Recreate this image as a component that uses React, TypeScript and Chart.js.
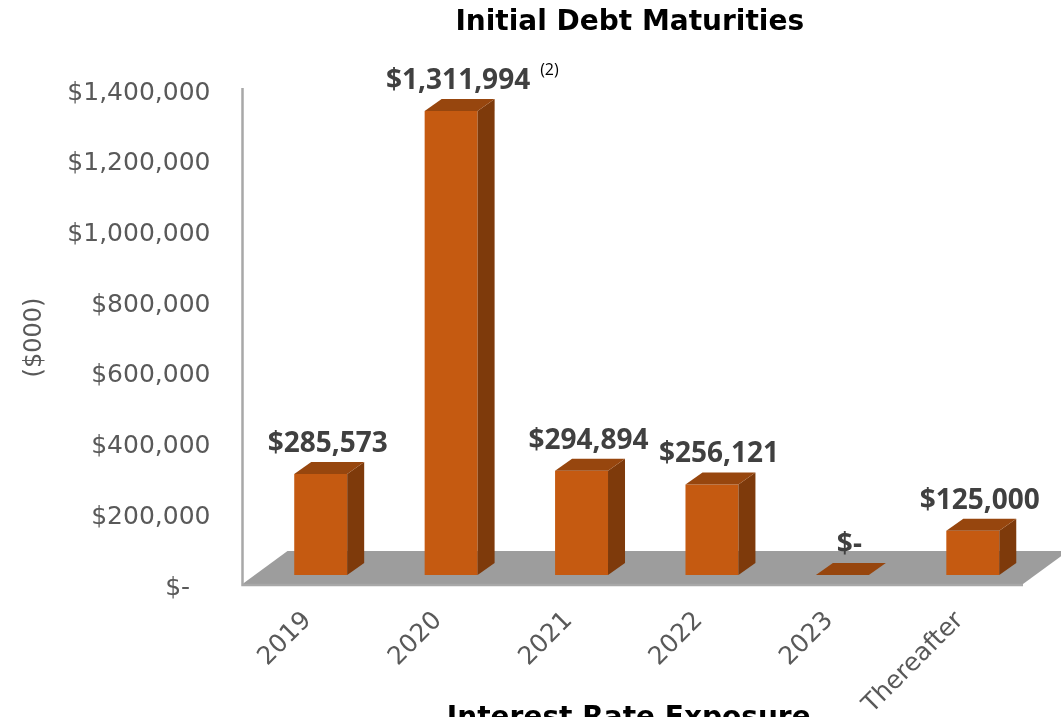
import React, { useEffect, useRef } from "react";
import { Chart, registerables } from "chart.js";

Chart.register(...registerables);

const categories = ["2019", "2020", "2021", "2022", "2023", "Thereafter"];
const maturities = [285573, 1311994, 294894, 256121, 0, 125000];
const labelNotes = ["", "(2)", "", "", "", ""];
const yMax = 1400000;
const yStep = 200000;
const chartTitle = "Initial Debt Maturities";
const yAxisTitle = "($000)";
const nextTitle = "Interest Rate Exposure";

const fmt = (v: number) => (v === 0 ? "$-" : "$" + v.toLocaleString("en-US"));

const FRONT = "#C55A11";
const SIDE = "#7E3A0B";
const TOP = "#97460E";
const DX = 17;
const DY = -12;

const bar3d = {
  id: "bar3d",
  beforeDatasetsDraw(chart: any) {
    const { ctx, chartArea: a } = chart;
    const fl = a.left - 13;
    const fr = a.right - 15;
    const fy = a.bottom + 9;
    const by = a.bottom - 24;
    const fdx = 45;
    ctx.save();
    ctx.fillStyle = "#9d9d9d";
    ctx.beginPath();
    ctx.moveTo(fl, fy);
    ctx.lineTo(fl + fdx, by);
    ctx.lineTo(fr + fdx, by);
    ctx.lineTo(fr, fy);
    ctx.closePath();
    ctx.fill();
    ctx.strokeStyle = "#a8a8a8";
    ctx.lineWidth = 2.5;
    ctx.beginPath();
    ctx.moveTo(fl, a.top + 8);
    ctx.lineTo(fl, fy + 1);
    ctx.lineTo(fr, fy + 1);
    ctx.stroke();
    ctx.restore();
  },
  afterDatasetsDraw(chart: any) {
    const { ctx } = chart;
    const meta = chart.getDatasetMeta(0);
    ctx.save();
    meta.data.forEach((bar: any, i: number) => {
      const { x, y, base, width } = bar.getProps(["x", "y", "base", "width"], true);
      const l = x - width / 2;
      const r = x + width / 2;
      if (base - y > 0.5) {
        ctx.fillStyle = SIDE;
        ctx.beginPath();
        ctx.moveTo(r, y);
        ctx.lineTo(r + DX, y + DY);
        ctx.lineTo(r + DX, base + DY);
        ctx.lineTo(r, base);
        ctx.closePath();
        ctx.fill();
      }
      ctx.fillStyle = TOP;
      ctx.beginPath();
      ctx.moveTo(l, y);
      ctx.lineTo(l + DX, y + DY);
      ctx.lineTo(r + DX, y + DY);
      ctx.lineTo(r, y);
      ctx.closePath();
      ctx.fill();

      // value label
      const text = fmt(maturities[i]);
      ctx.font = "bold 28px 'Open Sans'";
      ctx.fillStyle = "#404040";
      ctx.textAlign = "center";
      ctx.textBaseline = "middle";
      const lx = x + 7;
      const ly = y - 30;
      ctx.fillText(text, lx, ly);
      if (labelNotes[i]) {
        const w = ctx.measureText(text).width;
        ctx.font = "16px 'Open Sans'";
        ctx.fillStyle = "#000000";
        ctx.textAlign = "left";
        ctx.fillText(labelNotes[i], lx + w / 2 + 10, ly - 11);
      }
    });
    ctx.restore();
  },
  afterDraw(chart: any) {
    const { ctx, chartArea: a } = chart;
    ctx.save();
    ctx.fillStyle = "#000000";
    ctx.textAlign = "center";
    ctx.textBaseline = "middle";
    ctx.font = "bold 28px 'DejaVu Sans'";
    ctx.fillText(chartTitle, (a.left + a.right) / 2 - 17, 23);
    ctx.textBaseline = "alphabetic";
    ctx.fillText(nextTitle, (a.left + a.right) / 2 - 18, 726);
    ctx.translate(35, (a.top + a.bottom) / 2 + 10);
    ctx.rotate(-Math.PI / 2);
    ctx.font = "24px 'DejaVu Sans'";
    ctx.fillStyle = "#595959";
    ctx.textBaseline = "middle";
    ctx.fillText(yAxisTitle, 0, 0);
    ctx.restore();
  },
};

export default function App() {
  const ref = useRef<HTMLCanvasElement>(null);
  useEffect(() => {
    if (!ref.current) return;
    const chart = new Chart(ref.current, {
      type: "bar",
      data: {
        labels: categories,
        datasets: [
          {
            data: maturities,
            backgroundColor: FRONT,
            borderWidth: 0,
            categoryPercentage: 1,
            barPercentage: 0.406,
          },
        ],
      },
      options: {
        responsive: false,
        animation: false,
        devicePixelRatio: 1,
        layout: { padding: { top: 80, right: 23, left: 0, bottom: 0 } },
        plugins: {
          legend: { display: false },
          tooltip: { enabled: false },
          title: { display: false },
        },
        scales: {
          x: {
            grid: { display: false, drawTicks: false },
            border: { display: false },
            afterFit: (s: any) => {
              s.height = 142;
            },
            ticks: {
              minRotation: 45,
              maxRotation: 45,
              padding: 31,
              labelOffset: -13,
              color: "#595959",
              font: { family: "'DejaVu Sans'", size: 25 },
            },
          },
          y: {
            min: 0,
            max: yMax,
            grid: { display: false, drawTicks: false },
            border: { display: false },
            afterFit: (s: any) => {
              s.width = 255.5;
            },
            ticks: {
              stepSize: yStep,
              padding: 45,
              labelOffset: 13,
              color: "#595959",
              font: { family: "'DejaVu Sans'", size: 25 },
              callback: (v: any) => (Number(v) === 0 ? "$-\u2002 " : fmt(Number(v))),
            },
          },
        },
      },
      plugins: [bar3d],
    });
    return () => chart.destroy();
  }, []);
  return (
    <div style={{ position: "absolute", left: 0, top: 0, width: 1061, height: 717, background: "#fff" }}>
      <canvas ref={ref} width={1061} height={717} />
    </div>
  );
}
